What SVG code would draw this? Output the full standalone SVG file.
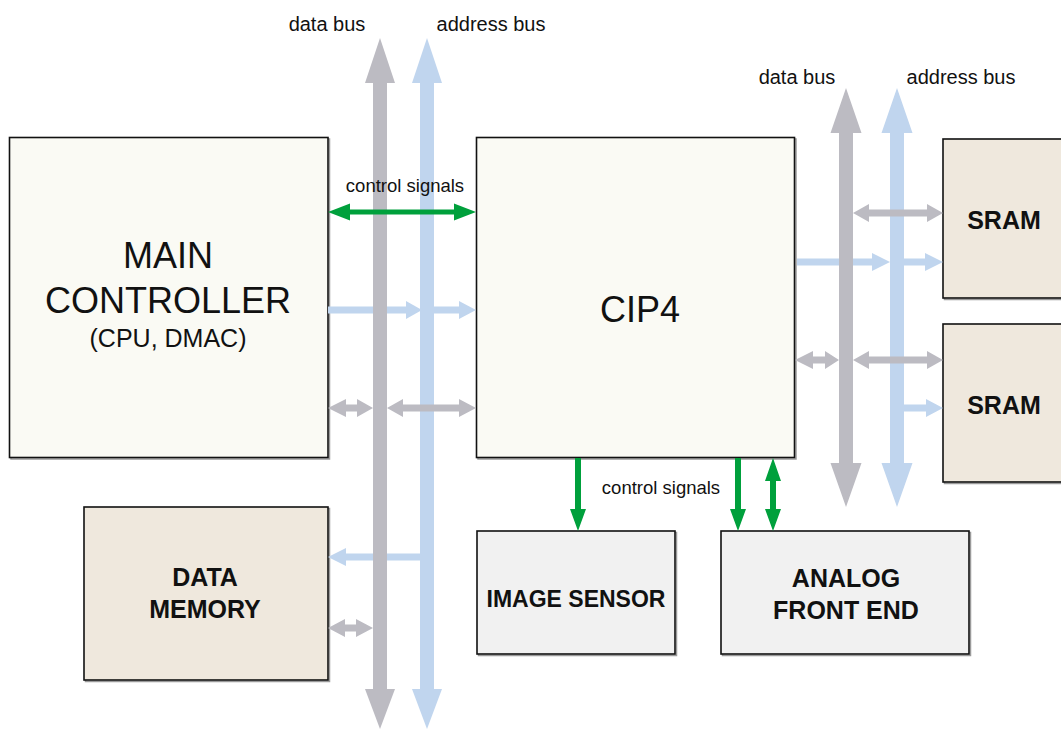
<svg xmlns="http://www.w3.org/2000/svg" width="1061" height="729" viewBox="0 0 1061 729">
<style>
.box{stroke:#111;stroke-width:1.6}
.shadow{fill:none;stroke:#9a9a9a;stroke-width:1.5}
.main{fill:#fafaf4}
.beige{fill:#efe8dd}
.grey{fill:#f1f1f1}
.gbus{fill:#bcbbc2}
.bbus{fill:#c0d5ee}
.green{fill:#00a03c}
.lbl{font-family:"Liberation Sans",Arial,sans-serif;fill:#111}
.big{font-size:36px;text-anchor:middle}
.bold{font-size:25px;font-weight:bold;text-anchor:middle}
.small{font-size:18.5px}
.bus{font-size:20px}
</style>
<rect width="1061" height="729" fill="#fff"/>
<g id="main-controller">
<rect class="shadow" x="11" y="139" width="318.5" height="320"/>
<rect class="box main" x="9.5" y="137.5" width="318.5" height="320"/>
<text class="lbl big" x="168" y="268">MAIN</text>
<text class="lbl big" x="168" y="313">CONTROLLER</text>
<text class="lbl" x="168" y="347" font-size="25" text-anchor="middle">(CPU, DMAC)</text>
</g>
<g id="cip4">
<rect class="shadow" x="478" y="139" width="318" height="320"/>
<rect class="box main" x="476.5" y="137.5" width="318" height="320"/>
<text class="lbl big" x="640" y="322">CIP4</text>
</g>
<g id="data-memory">
<rect class="shadow" x="85.5" y="508.5" width="244" height="173"/>
<rect class="box beige" x="84" y="507" width="244" height="173"/>
<text class="lbl bold" x="205" y="586">DATA</text>
<text class="lbl bold" x="205" y="618">MEMORY</text>
</g>
<g id="image-sensor">
<rect class="shadow" x="478.5" y="532.5" width="198" height="123"/>
<rect class="box grey" x="477" y="531" width="198" height="123"/>
<text class="lbl" x="576" y="607" font-size="23" font-weight="bold" text-anchor="middle">IMAGE SENSOR</text>
</g>
<g id="analog-front-end">
<rect class="shadow" x="722.5" y="532.5" width="248" height="123"/>
<rect class="box grey" x="721" y="531" width="248" height="123"/>
<text class="lbl bold" x="846" y="587">ANALOG</text>
<text class="lbl bold" x="846" y="619">FRONT END</text>
</g>
<g id="sram-1">
<rect class="shadow" x="944.5" y="140.5" width="130" height="159"/>
<rect class="box beige" x="943" y="139" width="130" height="159"/>
<text class="lbl bold" x="1004" y="229">SRAM</text>
</g>
<g id="sram-2">
<rect class="shadow" x="944.5" y="325.5" width="130" height="158"/>
<rect class="box beige" x="943" y="324" width="130" height="158"/>
<text class="lbl bold" x="1004" y="414">SRAM</text>
</g>
<g id="connectors">
<!-- address (blue) horizontal arrows, beneath buses -->
<path class="bbus" d="M328,306.5 L406,306.5 L406,301 L422,310 L406,319 L406,313.5 L328,313.5 Z"/>
<path class="bbus" d="M434,306.5 L459,306.5 L459,301 L476,310 L459,319 L459,313.5 L434,313.5 Z"/>
<path class="bbus" d="M420,553.5 L346,553.5 L346,548 L328,557 L346,566 L346,560.5 L420,560.5 Z"/>
<path class="bbus" d="M797,258.5 L872,258.5 L872,253 L890,262 L872,271 L872,265.5 L797,265.5 Z"/>
<path class="bbus" d="M904,258.5 L925,258.5 L925,253 L943,262 L925,271 L925,265.5 L904,265.5 Z"/>
<path class="bbus" d="M904,404.5 L926,404.5 L926,399 L943,408 L926,417 L926,411.5 L904,411.5 Z"/>
<!-- buses -->
<path class="bbus" d="M427,38 L442,83 L434,83 L434,689 L442,689 L427,729 L412,689 L420,689 L420,83 L412,83 Z"/>
<path class="gbus" d="M380,38 L395,83 L387,83 L387,689 L395,689 L380,729 L365,689 L373,689 L373,83 L365,83 Z"/>
<path class="bbus" d="M897,88 L912.5,133 L904,133 L904,463 L912.5,463 L897,507 L881.5,463 L890,463 L890,133 L881.5,133 Z"/>
<path class="gbus" d="M846,88 L861.5,133 L853,133 L853,463 L861.5,463 L846,507 L830.5,463 L839,463 L839,133 L830.5,133 Z"/>
<!-- data (gray) horizontal arrows -->
<path class="gbus" d="M328,408 L346,399 L346,404.5 L357,404.5 L357,399 L373,408 L357,417 L357,411.5 L346,411.5 L346,417 Z"/>
<path class="gbus" d="M387,408 L403,399 L403,404.5 L459,404.5 L459,399 L476,408 L459,417 L459,411.5 L403,411.5 L403,417 Z"/>
<path class="gbus" d="M328,628 L345,619 L345,624.5 L356,624.5 L356,619 L373,628 L356,637 L356,631.5 L345,631.5 L345,637 Z"/>
<path class="gbus" d="M853,213 L869,204 L869,209.5 L927,209.5 L927,204 L943,213 L927,222 L927,216.5 L869,216.5 L869,222 Z"/>
<path class="gbus" d="M795,360 L813,351 L813,356.5 L825,356.5 L825,351 L839,360 L825,369 L825,363.5 L813,363.5 L813,369 Z"/>
<path class="gbus" d="M853,360 L869,351 L869,356.5 L927,356.5 L927,351 L943,360 L927,369 L927,363.5 L869,363.5 L869,369 Z"/>
<!-- control signals (green) -->
<path class="green" d="M328,212 L350,203.5 L350,209.5 L454,209.5 L454,203.5 L476,212 L454,220.5 L454,214.5 L350,214.5 L350,220.5 Z"/>
<path class="green" d="M575,458 L581,458 L581,509 L586,509 L578,531 L570,509 L575,509 Z"/>
<path class="green" d="M735,458 L741,458 L741,509 L746,509 L738,531 L730,509 L735,509 Z"/>
<path class="green" d="M773,458 L781,481 L776,481 L776,509 L781,509 L773,531 L765,509 L770,509 L770,481 L765,481 Z"/>
</g>
<g id="labels">
<text class="lbl bus" x="327" y="31" text-anchor="middle">data bus</text>
<text class="lbl bus" x="491" y="31" text-anchor="middle">address bus</text>
<text class="lbl bus" x="797" y="84" text-anchor="middle">data bus</text>
<text class="lbl bus" x="961" y="84" text-anchor="middle">address bus</text>
<text class="lbl small" x="405" y="192" text-anchor="middle">control signals</text>
<text class="lbl small" x="661" y="494" text-anchor="middle">control signals</text>
</g>
</svg>
